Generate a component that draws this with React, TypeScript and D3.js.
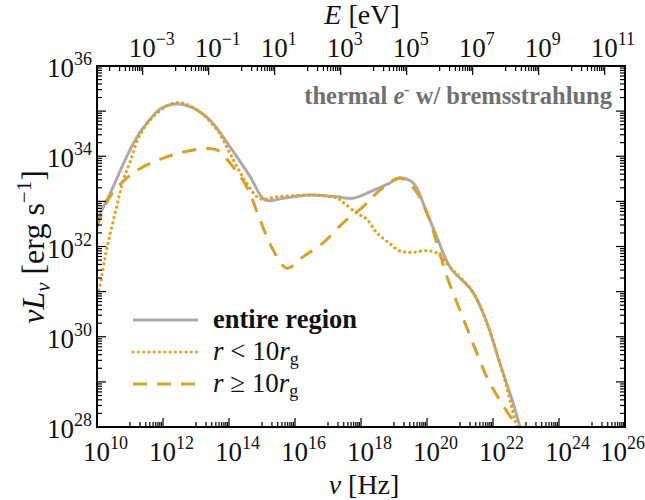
import React from "react";
import * as d3 from "d3";

// log10(nu [Hz]) and log10(nu L_nu [erg/s])
const totalLogNu = [10.0, 10.33, 11.0, 11.35, 11.96, 12.45, 12.91, 13.42, 14.03, 14.64, 15.09, 15.64, 16.45, 17.27, 17.76, 18.27, 18.8, 19.18, 19.58, 20.0, 20.3, 20.7, 21.39, 21.82, 22.21, 22.61, 22.82, 23.0];
const totalLogL = [32.6, 33.07, 34.14, 34.58, 35.07, 35.16, 35.07, 34.8, 34.21, 33.55, 33.03, 33.07, 33.14, 33.1, 33.07, 33.21, 33.38, 33.52, 33.41, 32.74, 32.21, 31.54, 30.99, 30.3, 29.41, 28.53, 28.0, 27.6];

const innerLogNu = [10.0, 10.09, 10.24, 10.39, 10.61, 10.8, 11.0, 11.3, 11.81, 12.42, 13.02, 13.63, 14.03, 14.54, 14.94, 15.45, 16.45, 17.26, 17.45, 17.87, 18.18, 18.48, 18.88, 19.18, 19.58, 20.0, 20.3, 20.7, 21.39, 21.82, 22.21, 22.42, 22.61, 22.73, 22.9];
const innerLogL = [30.92, 31.14, 31.74, 32.25, 32.92, 33.48, 33.87, 34.47, 34.95, 35.19, 35.03, 34.59, 34.06, 33.4, 33.06, 33.1, 33.14, 33.08, 32.98, 32.74, 32.6, 32.3, 32.06, 31.9, 31.87, 31.91, 31.85, 31.54, 30.99, 30.3, 29.41, 28.88, 28.31, 28.0, 27.6];

const outerLogNu = [10.0, 10.39, 11.1, 12.01, 13.12, 13.63, 14.03, 14.54, 14.94, 15.29, 15.75, 16.24, 16.85, 17.45, 18.06, 18.58, 19.18, 19.64, 20.0, 20.3, 20.61, 21.0, 21.39, 21.82, 22.21, 22.61, 22.82, 23.0];
const outerLogL = [32.43, 33.1, 33.63, 33.96, 34.16, 34.14, 33.85, 33.32, 32.59, 31.99, 31.52, 31.77, 32.08, 32.52, 32.88, 33.25, 33.52, 33.25, 32.74, 32.08, 31.32, 30.59, 29.86, 29.1, 28.59, 28.15, 28.0, 27.8];

const xTickExps = [10, 12, 14, 16, 18, 20, 22, 24, 26];
const eTickExps = [-3, -1, 1, 3, 5, 7, 9, 11];
const yTickExps = [28, 30, 32, 34, 36];

const legendLabels = ["entire region", "r < 10r_g", "r ≥ 10r_g"];

const LOG_H_EV = Math.log10(4.135667e-15);

const W = 645, H = 500;
const L = 97, R = 625, T = 66, B = 427;

const GRAY = "#ababab";
const DOT = "#e3a11c";
const DASH = "#d99f2b";
const FONT = "'Liberation Serif', 'Times New Roman', serif";

export default function App() {
  const x = d3.scaleLinear().domain([10, 26]).range([L, R]);
  const y = d3.scaleLinear().domain([28, 36]).range([B, T]);
  const line = d3
    .line<[number, number]>()
    .x((d) => x(d[0]))
    .y((d) => y(d[1]))
    .curve(d3.curveCatmullRom.alpha(0.5));
  const zip = (a: number[], b: number[]) => a.map((v, i) => [v, b[i]] as [number, number]);

  const majLen = 9, minLen = 5;
  const ticks: JSX.Element[] = [];
  xTickExps.forEach((e) => {
    ticks.push(<line key={`bx${e}`} x1={x(e)} x2={x(e)} y1={B} y2={B - majLen} />);
    if (e > 10) {
      for (let m = 1; m <= 9; m++) {
        const v = e - 1 + Math.log10(m);
        ticks.push(<line key={`bm${e}-${m}`} x1={x(v)} x2={x(v)} y1={B} y2={B - minLen} />);
      }
    }
  });
  eTickExps.forEach((k) => {
    const v = k - LOG_H_EV;
    ticks.push(<line key={`tx${k}`} x1={x(v)} x2={x(v)} y1={T} y2={T + majLen} />);
    for (let m = 1; m <= 9; m++) {
      const w = k - 1 + Math.log10(m) - LOG_H_EV;
      if (w >= 10 && w <= 26)
        ticks.push(<line key={`tm${k}-${m}`} x1={x(w)} x2={x(w)} y1={T} y2={T + minLen} />);
    }
  });
  for (let e = 28; e <= 36; e++) {
    ticks.push(<line key={`ly${e}`} x1={L} x2={L + majLen} y1={y(e)} y2={y(e)} />);
    ticks.push(<line key={`ry${e}`} x1={R} x2={R - majLen} y1={y(e)} y2={y(e)} />);
    if (e < 36) {
      for (let m = 2; m <= 9; m++) {
        const v = e + Math.log10(m);
        ticks.push(<line key={`lm${e}-${m}`} x1={L} x2={L + minLen} y1={y(v)} y2={y(v)} />);
        ticks.push(<line key={`rm${e}-${m}`} x1={R} x2={R - minLen} y1={y(v)} y2={y(v)} />);
      }
    }
  }

  const pow = (e: number) => (
    <>
      10<tspan fontSize={18} dy={-12}>{e < 0 ? `−${-e}` : `${e}`}</tspan>
    </>
  );

  return (
    <svg width={W} height={H} style={{ position: "absolute", left: 0, top: 0, background: "#fff" }} fontFamily={FONT}>
      <defs>
        <clipPath id="plotclip">
          <rect x={L} y={T} width={R - L} height={B - T} />
        </clipPath>
      </defs>
      <rect x={0} y={0} width={W} height={H} fill="#fff" />

      <g clipPath="url(#plotclip)" fill="none" strokeLinejoin="round">
        <path d={line(zip(totalLogNu, totalLogL)) || ""} stroke={GRAY} strokeWidth={3} />
        <path d={line(zip(innerLogNu, innerLogL)) || ""} stroke={DOT} strokeWidth={3.2} strokeDasharray="0.1 5.2" strokeLinecap="round" />
        <path d={line(zip(outerLogNu, outerLogL)) || ""} stroke={DASH} strokeWidth={3} strokeDasharray="14 10" />
      </g>

      <g stroke="#000" strokeWidth={1.2}>{ticks}</g>
      <rect x={L} y={T} width={R - L} height={B - T} fill="none" stroke="#000" strokeWidth={2} />

      <g fontSize={27} textAnchor="start" fill="#111">
        {xTickExps.map((e) => (
          <text key={`bl${e}`} x={Math.min(x(e) - 14, 600)} y={461}>{pow(e)}</text>
        ))}
        {eTickExps.map((k) => (
          <text key={`tl${k}`} x={x(k - LOG_H_EV) - 14} y={57}>{pow(k)}</text>
        ))}
      </g>
      <g fontSize={27} textAnchor="end" fill="#111">
        {yTickExps.map((e) => (
          <text key={`yl${e}`} x={92} y={y(e) + 11}>{pow(e)}</text>
        ))}
      </g>

      <text x={362} y={24} fontSize={28} textAnchor="middle" fill="#111">
        <tspan fontStyle="italic">E</tspan> [eV]
      </text>
      <text x={364} y={494} fontSize={28} textAnchor="middle" fill="#111">
        <tspan fontStyle="italic">ν</tspan> [Hz]
      </text>
      <text transform="translate(44,247) rotate(-90)" fontSize={32} textAnchor="middle" fill="#111">
        <tspan fontStyle="italic">νL</tspan>
        <tspan fontStyle="italic" fontSize={21} dy={6}>ν</tspan>
        <tspan dy={-6}> [erg s</tspan>
        <tspan fontSize={21} dy={-13}>−1</tspan>
        <tspan dy={13}>]</tspan>
      </text>

      <text x={612} y={104} fontSize={24.5} fontWeight="bold" textAnchor="end" fill="#707070">
        thermal <tspan fontStyle="italic">e</tspan><tspan fontSize={16} dy={-9}>-</tspan><tspan dy={9}> w/ bremsstrahlung</tspan>
      </text>

      <g>
        <line x1={133} x2={198} y1={320} y2={320} stroke={GRAY} strokeWidth={3} />
        <text x={213} y={328} fontSize={26.5} fontWeight="bold" fill="#111">{legendLabels[0]}</text>
        <line x1={133} x2={198} y1={352} y2={352} stroke={DOT} strokeWidth={3} strokeDasharray="0.1 5.2" strokeLinecap="round" />
        <text x={213} y={360} fontSize={27} fill="#111">
          <tspan fontStyle="italic">r</tspan> &lt; 10<tspan fontStyle="italic">r</tspan><tspan fontSize={18} dy={5}>g</tspan>
        </text>
        <line x1={133} x2={198} y1={384} y2={384} stroke={DASH} strokeWidth={3} strokeDasharray="14 10" />
        <text x={213} y={392} fontSize={27} fill="#111">
          <tspan fontStyle="italic">r</tspan> ≥ 10<tspan fontStyle="italic">r</tspan><tspan fontSize={18} dy={5}>g</tspan>
        </text>
      </g>
    </svg>
  );
}
